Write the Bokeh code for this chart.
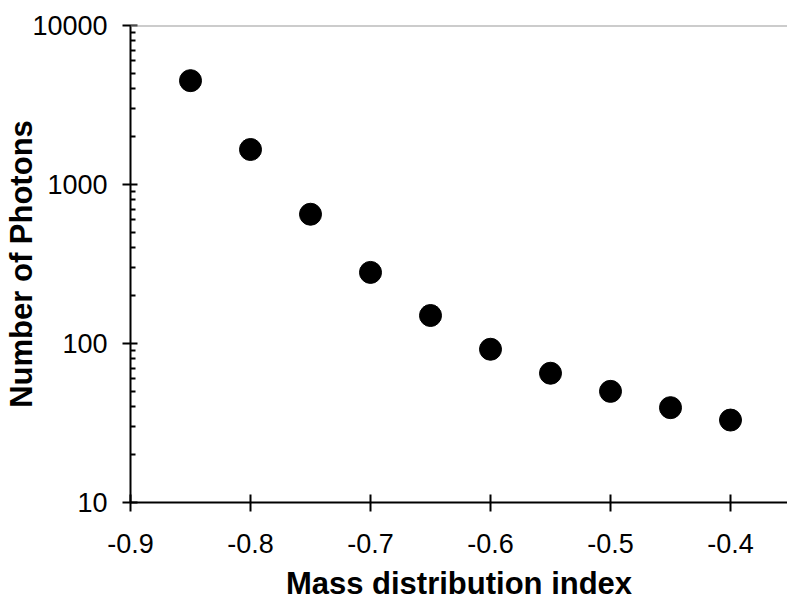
from bokeh.plotting import figure
from bokeh.models import FixedTicker, NumeralTickFormatter, PrintfTickFormatter, Span, Range1d
from bokeh.embed import file_html
from bokeh.resources import INLINE

# Data
mass_index = [-0.85, -0.80, -0.75, -0.70, -0.65, -0.60, -0.55, -0.50, -0.45, -0.40]
photons = [4500, 1660, 650, 280, 150, 92, 65, 50, 39.5, 33]

x_ticks = [-0.9, -0.8, -0.7, -0.6, -0.5, -0.4]
y_ticks = [10, 100, 1000, 10000]
y_minor = [m * 10 ** e for e in (1, 2, 3) for m in range(2, 10)]

FONT = "Liberation Sans"

p = figure(width=787, height=610, y_axis_type="log",
           x_range=Range1d(-0.9, -0.3525), y_range=Range1d(10, 10000),
           output_backend="svg", toolbar_location=None,
           min_border_left=130, min_border_right=0, min_border_top=25,
           min_border_bottom=108)
p.outline_line_color = None
p.xgrid.visible = False
p.ygrid.visible = False
p.background_fill_color = "white"
p.border_fill_color = "white"

p.add_layout(Span(location=10000, dimension="width", line_color="#999999", line_width=2))

p.scatter(mass_index, photons, size=22, color="black", marker="circle")

# X axis
xa = p.xaxis[0]
xa.ticker = FixedTicker(ticks=x_ticks)
xa.formatter = PrintfTickFormatter(format="%.1f")
xa.axis_line_width = 2
xa.major_tick_line_width = 2
xa.major_tick_in = 8
xa.major_tick_out = 9
xa.minor_tick_line_color = None
xa.major_label_text_font = FONT
xa.major_label_text_font_size = "27px"
xa.major_label_text_color = "black"
xa.major_label_standoff = 22
xa.axis_label = "Mass distribution index"
xa.axis_label_text_font = FONT
xa.axis_label_text_font_size = "31px"
xa.axis_label_text_font_style = "bold"
xa.axis_label_text_color = "black"
xa.axis_label_standoff = 10

# Y axis
ya = p.yaxis[0]
ya.ticker = FixedTicker(ticks=y_ticks, minor_ticks=y_minor)
ya.formatter = NumeralTickFormatter(format="0")
ya.axis_line_width = 2
ya.major_tick_line_width = 2
ya.major_tick_in = 7
ya.major_tick_out = 8
ya.minor_tick_line_width = 2
ya.minor_tick_in = 5
ya.minor_tick_out = 0
ya.major_label_text_font = FONT
ya.major_label_text_font_size = "27px"
ya.major_label_text_color = "black"
ya.major_label_standoff = 15
ya.axis_label = "Number of Photons"
ya.axis_label_text_font = FONT
ya.axis_label_text_font_size = "31px"
ya.axis_label_text_font_style = "bold"
ya.axis_label_text_color = "black"
ya.axis_label_standoff = -10

open("out.html", "w").write(file_html(p, INLINE))
